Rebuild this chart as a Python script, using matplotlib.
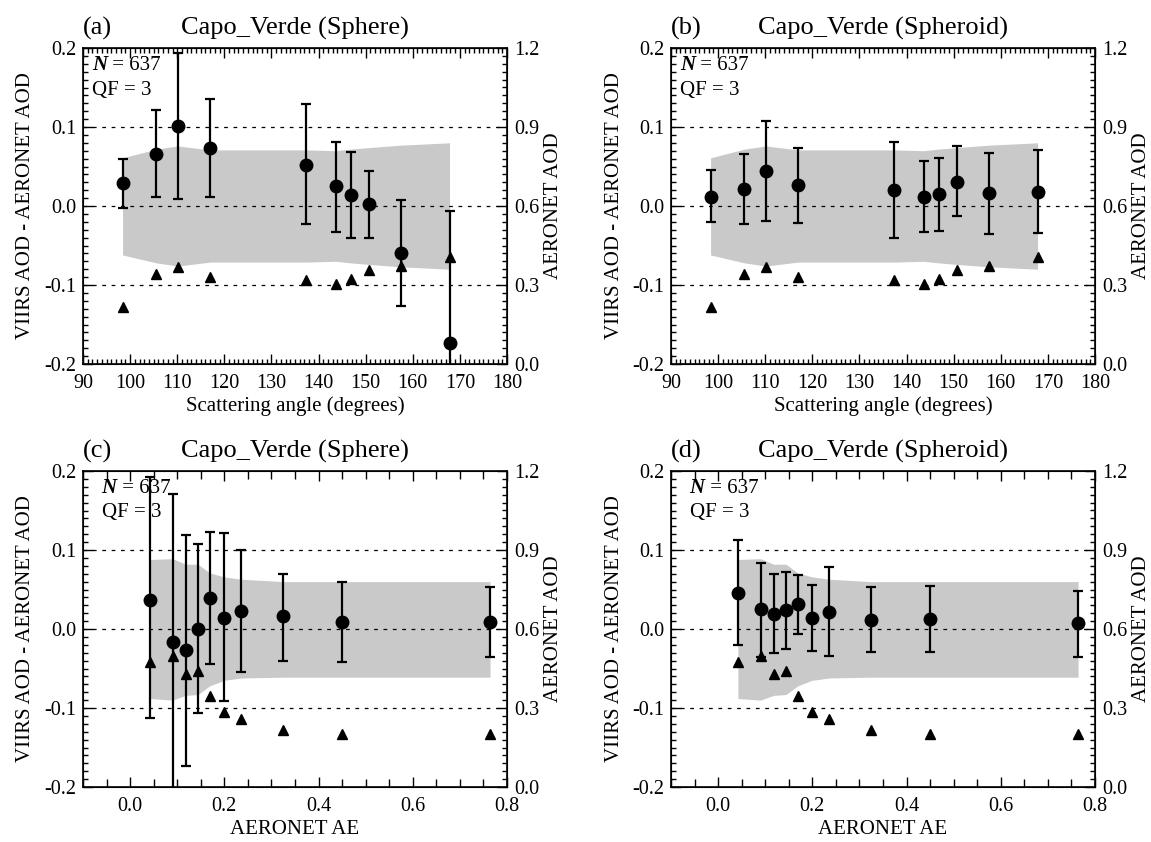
import matplotlib
matplotlib.use('Agg')
import numpy as np
import matplotlib.pyplot as plt
from matplotlib.ticker import MultipleLocator

plt.rcParams['font.family'] = ['Liberation Serif', 'DejaVu Serif']
plt.rcParams['axes.unicode_minus'] = False

# scattering-angle bins (panels a, b)
angle = [98.4, 105.6, 110.1, 117.0, 137.4, 143.6, 146.8, 150.8, 157.5, 167.8]
angle_aod = [0.216, 0.342, 0.370, 0.329, 0.320, 0.304, 0.323, 0.357, 0.373, 0.406]
angle_env_hi = [0.061, 0.072, 0.076, 0.071, 0.071, 0.070, 0.072, 0.074, 0.077, 0.080]
angle_env_lo = [-0.062, -0.072, -0.076, -0.071, -0.071, -0.070, -0.072, -0.074, -0.077, -0.080]

sph_angle_bias = [0.029, 0.066, 0.101, 0.073, 0.052, 0.025, 0.014, 0.002, -0.059, -0.173]
sph_angle_hi = [0.060, 0.121, 0.194, 0.135, 0.129, 0.081, 0.068, 0.044, 0.008, -0.006]
sph_angle_lo = [-0.003, 0.011, 0.009, 0.011, -0.023, -0.033, -0.041, -0.041, -0.127, -0.320]

spd_angle_bias = [0.012, 0.021, 0.044, 0.026, 0.020, 0.012, 0.015, 0.031, 0.016, 0.018]
spd_angle_hi = [0.045, 0.066, 0.107, 0.073, 0.081, 0.057, 0.061, 0.076, 0.067, 0.071]
spd_angle_lo = [-0.020, -0.023, -0.019, -0.021, -0.041, -0.033, -0.032, -0.013, -0.035, -0.034]

# AERONET AE bins (panels c, d)
ae = [0.042, 0.090, 0.118, 0.144, 0.169, 0.199, 0.236, 0.324, 0.450, 0.764]
ae_aod = [0.473, 0.499, 0.428, 0.442, 0.344, 0.286, 0.258, 0.215, 0.201, 0.201]
ae_env_hi = [0.088, 0.089, 0.082, 0.082, 0.071, 0.066, 0.063, 0.060, 0.060, 0.060]
ae_env_lo = [-0.088, -0.090, -0.084, -0.083, -0.072, -0.065, -0.062, -0.061, -0.061, -0.061]

sph_ae_bias = [0.037, -0.016, -0.027, 0.000, 0.039, 0.014, 0.023, 0.016, 0.009, 0.009]
sph_ae_hi = [0.193, 0.171, 0.119, 0.107, 0.123, 0.121, 0.100, 0.070, 0.060, 0.053]
sph_ae_lo = [-0.113, -0.300, -0.173, -0.106, -0.044, -0.091, -0.054, -0.040, -0.042, -0.035]

spd_ae_bias = [0.046, 0.025, 0.019, 0.024, 0.032, 0.014, 0.022, 0.012, 0.013, 0.007]
spd_ae_hi = [0.113, 0.084, 0.069, 0.072, 0.068, 0.056, 0.078, 0.053, 0.054, 0.048]
spd_ae_lo = [-0.020, -0.035, -0.031, -0.025, -0.006, -0.028, -0.034, -0.029, -0.029, -0.035]

n_obs = 637
qf = 3

W, H = 1151, 842
fig = plt.figure(figsize=(W / 100, H / 100), dpi=100)

AX_W, AX_H = 424, 316


def panel(left, top, x, bias, lo, hi, aod, env_lo, env_hi, tag, title,
          xlabel, xlim, xmaj, xmin, xminlen, ntext_x):
    ax = fig.add_axes([left / W, 1 - (top + AX_H) / H, AX_W / W, AX_H / H])
    x = np.array(x)
    bias = np.array(bias)
    ax.fill_between(x, env_lo, env_hi, color='#c9c9c9', lw=0, zorder=1)
    for yv in (-0.1, 0.0, 0.1):
        ax.axhline(yv, color='k', lw=0.9, ls=(0, (3, 4.5)), zorder=2)
    ax.errorbar(x, bias, yerr=[bias - np.array(lo), np.array(hi) - bias],
                fmt='o', color='k', ms=9, elinewidth=1.6, capsize=3.3,
                capthick=1.6, zorder=3)
    ax.set_xlim(xlim)
    ax.set_ylim(-0.2, 0.2)
    ax.xaxis.set_major_locator(MultipleLocator(xmaj))
    ax.xaxis.set_minor_locator(MultipleLocator(xmin))
    ax.yaxis.set_major_locator(MultipleLocator(0.1))
    ax.yaxis.set_minor_locator(MultipleLocator(0.01))
    ax.yaxis.set_major_formatter(lambda v, p: f'{v:.1f}')
    ax.xaxis.set_major_formatter(lambda v, p: f'{v:.0f}' if xmaj >= 1 else f'{v:.1f}')
    ax.tick_params(which='both', direction='in', top=True, right=False,
                   labelsize=14.5, width=1)
    ax.tick_params(axis='x', which='major', length=7, pad=7)
    ax.tick_params(axis='x', which='minor', length=xminlen)
    ax.tick_params(axis='y', which='major', length=7, pad=5)
    ax.tick_params(axis='y', which='minor', length=3.5)
    for s in ax.spines.values():
        s.set_linewidth(1.2)

    ax2 = ax.twinx()
    ax2.plot(x, aod, '^', color='k', ms=6.5, zorder=4)
    ax2.set_ylim(0, 1.2)
    ax2.yaxis.set_major_locator(MultipleLocator(0.3))
    ax2.yaxis.set_minor_locator(MultipleLocator(0.03))
    ax2.yaxis.set_major_formatter(lambda v, p: f'{v:.1f}')
    ax2.tick_params(which='both', direction='in', labelsize=14.5, width=1)
    ax2.tick_params(which='major', length=7, pad=5)
    ax2.tick_params(which='minor', length=3.5)

    # labels and annotations
    ax.text(0.5, 1 + 20 / AX_H, title, transform=ax.transAxes,
            ha='center', va='center', fontsize=19)
    ax.text(0.0, 1 + 20 / AX_H, tag, transform=ax.transAxes,
            ha='left', va='center', fontsize=19)
    ax.text(0.5, -42 / AX_H, xlabel, transform=ax.transAxes,
            ha='center', va='center', fontsize=15)
    cy = 1 - (top + AX_H / 2) / H
    fig.text((left - 57) / W, cy, 'VIIRS AOD - AERONET AOD', rotation=90,
             ha='center', va='center', fontsize=15)
    fig.text((left + AX_W + 47) / W, cy, 'AERONET AOD', rotation=90,
             ha='center', va='center', fontsize=15)
    t = ax.text(ntext_x, 1 - 17 / AX_H, 'N', transform=ax.transAxes,
                ha='left', va='center', fontsize=15, style='italic',
                weight='bold')
    ax.annotate(f' = {n_obs}', xy=(1, 0), xycoords=t, ha='left',
                va='bottom', fontsize=15)
    ax.text(ntext_x, 1 - 42 / AX_H, f'QF = {qf}', transform=ax.transAxes,
            ha='left', va='center', fontsize=15)
    return ax


panel(83, 48, angle, sph_angle_bias, sph_angle_lo, sph_angle_hi, angle_aod,
      angle_env_lo, angle_env_hi, '(a)', 'Capo_Verde (Sphere)',
      'Scattering angle (degrees)', (90, 180), 10, 1, 3.5, 0.022)
panel(671, 48, angle, spd_angle_bias, spd_angle_lo, spd_angle_hi, angle_aod,
      angle_env_lo, angle_env_hi, '(b)', 'Capo_Verde (Spheroid)',
      'Scattering angle (degrees)', (90, 180), 10, 1, 3.5, 0.022)
panel(83, 471, ae, sph_ae_bias, sph_ae_lo, sph_ae_hi, ae_aod,
      ae_env_lo, ae_env_hi, '(c)', 'Capo_Verde (Sphere)',
      'AERONET AE', (-0.1, 0.8), 0.2, 0.05, 6, 0.044)
panel(671, 471, ae, spd_ae_bias, spd_ae_lo, spd_ae_hi, ae_aod,
      ae_env_lo, ae_env_hi, '(d)', 'Capo_Verde (Spheroid)',
      'AERONET AE', (-0.1, 0.8), 0.2, 0.05, 6, 0.044)

fig.savefig('out.png', dpi=100)
